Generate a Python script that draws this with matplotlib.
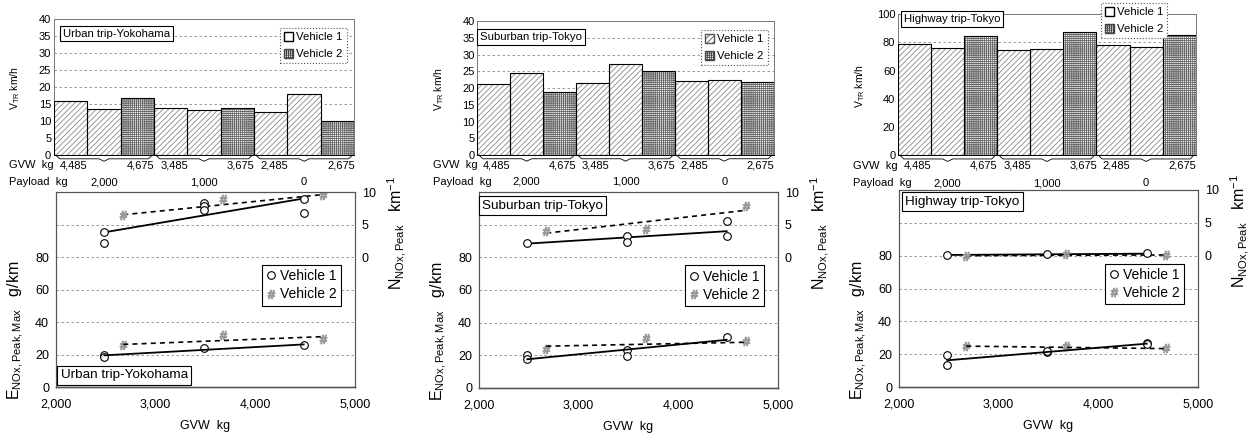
import matplotlib
matplotlib.use("Agg")
import matplotlib.pyplot as plt
import matplotlib.transforms as mtransforms
from matplotlib.patches import Patch
from matplotlib.lines import Line2D
from matplotlib.ticker import FuncFormatter

plt.rcParams["font.family"] = ["Liberation Sans", "DejaVu Sans"]
plt.rcParams["mathtext.fontset"] = "custom"
plt.rcParams["mathtext.rm"] = "Liberation Sans"
plt.rcParams["mathtext.it"] = "Liberation Sans:italic"
plt.rcParams["hatch.linewidth"] = 0.6

# ---- data ----
# bar order: three bars per payload group (vehicle 1, vehicle 1, vehicle 2)
bar_vehicle = [1, 1, 2, 1, 1, 2, 1, 1, 2]
gvw_labels = ["4,485", "4,675", "3,485", "3,675", "2,485", "2,675"]
gvw_label_pos = [0, 2, 3, 5, 6, 8]
payload_labels = ["2,000", "1,000", "0"]
payload_label_pos = [1, 4, 7]

urban_speed = [16.0, 13.5, 16.9, 13.8, 13.3, 13.8, 12.8, 17.9, 9.9]
suburban_speed = [21.2, 24.4, 18.9, 21.4, 27.2, 25.2, 22.1, 22.4, 21.8]
highway_speed = [79.0, 76.0, 84.8, 74.3, 75.5, 87.5, 78.4, 76.8, 84.9]

fit_gvw_v1 = [2485, 4485]
fit_gvw_v2 = [2675, 4675]

# Urban trip - Yokohama
urban_n_v1_x = [2485, 2485, 3485, 3485, 3485, 4485, 4485]
urban_n_v1_y = [3.8, 2.1, 8.3, 7.8, 7.3, 9.0, 6.8]
urban_n_v1_fit = [3.8, 9.0]
urban_n_v2_x = [2675, 3675, 4675]
urban_n_v2_y = [6.4, 9.0, 9.5]
urban_n_v2_fit = [6.5, 9.6]
urban_e_v1_x = [2485, 2485, 3485, 4485]
urban_e_v1_y = [19.9, 18.5, 24.2, 25.6]
urban_e_v1_fit = [19.5, 26.2]
urban_e_v2_x = [2675, 3675, 4675]
urban_e_v2_y = [25.6, 32.0, 29.3]
urban_e_v2_fit = [26.2, 31.0]

# Suburban trip - Tokyo
suburban_n_v1_x = [2485, 3485, 3485, 4485, 4485]
suburban_n_v1_y = [2.2, 3.2, 2.3, 5.5, 3.3]
suburban_n_v1_fit = [2.1, 4.0]
suburban_n_v2_x = [2675, 3675, 4675]
suburban_n_v2_y = [4.0, 4.4, 7.9]
suburban_n_v2_fit = [3.7, 7.2]
suburban_e_v1_x = [2485, 2485, 3485, 3485, 4485]
suburban_e_v1_y = [20.4, 18.0, 23.0, 19.6, 31.0]
suburban_e_v1_fit = [17.6, 29.5]
suburban_e_v2_x = [2675, 3675, 4675]
suburban_e_v2_y = [24.0, 30.5, 28.5]
suburban_e_v2_fit = [25.6, 28.0]

# Highway trip - Tokyo
highway_n_v1_x = [2485, 3485, 4485]
highway_n_v1_y = [0.1, 0.3, 0.4]
highway_n_v1_fit = [0.1, 0.3]
highway_n_v2_x = [2675, 3675, 4675]
highway_n_v2_y = [0.0, 0.2, 0.1]
highway_n_v2_fit = [0.0, 0.1]
highway_e_v1_x = [2485, 2485, 3485, 3485, 4485, 4485]
highway_e_v1_y = [19.5, 13.5, 21.5, 22.0, 27.0, 26.0]
highway_e_v1_fit = [16.4, 26.5]
highway_e_v2_x = [2675, 3675, 4675]
highway_e_v2_y = [25.0, 25.0, 24.0]
highway_e_v2_fit = [25.0, 23.5]

V1_HATCH = "//////"
V2_HATCH = "++++++++"
V2_MARK = dict(linestyle="none", marker=r"$\#$", ms=6, color="#9a9a9a")
V1_MARK = dict(linestyle="none", marker="o", ms=5.5, mfc="white",
               mec="black", mew=0.8)
GRID_KW = dict(color="#8a8a8a", linestyle=(0, (3, 3)), linewidth=0.6)
BOX_KW = dict(boxstyle="square,pad=0.25", fc="white", ec="black", lw=0.8)


def draw_brace(ax, x0, x1, depth=0.045):
    trans = mtransforms.blended_transform_factory(ax.transData, ax.transAxes)
    xm = 0.5 * (x0 + x1)
    xs = [x0, x0 + 0.12, xm - 0.15, xm, xm + 0.15, x1 - 0.12, x1]
    ys = [0, -depth * 0.6, -depth * 0.6, -depth, -depth * 0.6, -depth * 0.6, 0]
    ax.plot(xs, ys, color="black", lw=0.6, transform=trans, clip_on=False)


def draw_bars(ax, speeds, ymax, ystep, title, title_pos, legend_anchor,
              v1_legend_hatched=False):
    x = list(range(len(speeds)))
    for xi, h, veh in zip(x, speeds, bar_vehicle):
        if veh == 1:
            ax.bar(xi, h, width=1.0, color="white", edgecolor="#8a8a8a",
                   hatch=V1_HATCH, linewidth=0, zorder=2)
        else:
            ax.bar(xi, h, width=1.0, color="white", edgecolor="#666666",
                   hatch=V2_HATCH, linewidth=0, zorder=2)
    ax.bar(x, speeds, width=1.0, fill=False, edgecolor="black",
           linewidth=0.8, zorder=3)

    ax.set_xlim(-0.5, len(speeds) - 0.5)
    ax.set_ylim(0, ymax)
    ax.set_yticks(range(0, ymax + 1, ystep))
    ax.set_xticks([])
    ax.tick_params(axis="y", length=0, labelsize=8, pad=2)
    for y in range(ystep, ymax, ystep):
        ax.axhline(y, zorder=1, **GRID_KW)
    for s in ax.spines.values():
        s.set_color("#777777")
        s.set_linewidth(0.7)
    ax.spines["bottom"].set_color("black")

    ax.set_ylabel(r"V$_{\mathrm{TR}}$ km/h", fontsize=7.5)
    ax.yaxis.set_label_coords(-0.105, 0.49)

    ax.text(title_pos[0], title_pos[1], title, transform=ax.transAxes,
            fontsize=8.2, ha="left", va="top", bbox=BOX_KW, zorder=5)

    if v1_legend_hatched:
        h1 = Patch(facecolor="white", edgecolor="#555555", hatch=V1_HATCH)
    else:
        h1 = Patch(facecolor="white", edgecolor="black")
    h2 = Patch(facecolor="white", edgecolor="#444444", hatch=V2_HATCH)
    leg = ax.legend([h1, h2], ["Vehicle 1", "Vehicle 2"], loc="upper right",
                    bbox_to_anchor=legend_anchor, fontsize=8.2,
                    handlelength=0.8, handleheight=0.8, handletextpad=0.3,
                    borderpad=0.35, labelspacing=0.6, fancybox=False,
                    framealpha=1, borderaxespad=0)
    leg.get_frame().set_edgecolor("#555555")
    leg.get_frame().set_linestyle(":")
    leg.get_frame().set_linewidth(0.8)
    leg.set_zorder(6)

    # GVW / payload rows under the bars
    trans = mtransforms.blended_transform_factory(ax.transData, ax.transAxes)
    for g in range(3):
        draw_brace(ax, 3 * g - 0.45, 3 * g + 2.45)
    ax.text(-0.15, -0.075, "GVW  kg", transform=ax.transAxes, fontsize=8,
            ha="left", va="center")
    for lab, pos in zip(gvw_labels, gvw_label_pos):
        ax.text(pos + 0.1, -0.075, lab, transform=trans, fontsize=8,
                ha="center", va="center")
    ax.text(-0.15, -0.2, "Payload  kg", transform=ax.transAxes, fontsize=8,
            ha="left", va="center")
    for lab, pos in zip(payload_labels, payload_label_pos):
        ax.text(pos, -0.2, lab, transform=trans, fontsize=8,
                ha="center", va="center")


def draw_emissions(ax, n_v1, n_v2, e_v1, e_v2, fits, title, title_pos,
                   title_va):
    ax2 = ax.twinx()
    ax.set_xlim(2000, 5000)
    ax.set_ylim(0, 120)
    ax2.set_ylim(-20, 10)
    ax.set_yticks([0, 20, 40, 60, 80])
    ax2.set_yticks([0, 5, 10])
    ax.set_xticks([2000, 3000, 4000, 5000])
    ax.xaxis.set_major_formatter(FuncFormatter(lambda v, p: "{:,.0f}".format(v)))
    ax.tick_params(length=0, labelsize=9, pad=5)
    ax.tick_params(axis="x", pad=8)
    ax2.tick_params(length=0, labelsize=9, pad=5)
    for y in [20, 40, 60, 80, 100]:
        ax.axhline(y, zorder=0, **GRID_KW)
    for a in (ax, ax2):
        for s in a.spines.values():
            s.set_color("#555555")
            s.set_linewidth(0.8)
    ax.spines["bottom"].set_color("black")
    ax.spines["bottom"].set_linewidth(1.0)

    f_n1, f_n2, f_e1, f_e2 = fits
    # peak count (right axis)
    ax2.plot(fit_gvw_v1, f_n1, color="black", lw=1.3)
    ax2.plot(fit_gvw_v2, f_n2, color="black", lw=1.2, linestyle=(0, (3, 2.5)))
    ax2.plot(n_v1[0], n_v1[1], **V1_MARK)
    ax2.plot(n_v2[0], n_v2[1], **V2_MARK)
    # emission (left axis), lines drawn on the right axis scale
    ax2.plot(fit_gvw_v1, [v / 4 - 20 for v in f_e1], color="black", lw=1.3)
    ax2.plot(fit_gvw_v2, [v / 4 - 20 for v in f_e2], color="black", lw=1.2,
             linestyle=(0, (3, 2.5)))
    ax.plot(e_v1[0], e_v1[1], zorder=3, **V1_MARK)
    ax.plot(e_v2[0], e_v2[1], zorder=3, **V2_MARK)

    ax.set_xlabel("GVW  kg", fontsize=9, labelpad=7)
    ax.set_ylabel(r"E$_{\mathrm{NOx,Peak,Max}}$   g/km", fontsize=11.5)
    ax.yaxis.set_label_coords(-0.102, 0.29)
    ax2.set_ylabel(r"N$_{\mathrm{NOx,Peak}}$   km$^{-1}$", fontsize=11.5,
                   rotation=90)
    ax2.yaxis.set_label_coords(1.1, 0.79)

    h1 = Line2D([], [], **V1_MARK)
    h2 = Line2D([], [], **V2_MARK)
    leg = ax2.legend([h1, h2], ["Vehicle 1", "Vehicle 2"], loc="upper left",
                     bbox_to_anchor=(0.69, 0.625), fontsize=10,
                     handlelength=0.6, handletextpad=0.4, borderpad=0.3,
                     labelspacing=0.3, fancybox=False, framealpha=1,
                     borderaxespad=0)
    leg.get_frame().set_edgecolor("black")
    leg.get_frame().set_linewidth(0.8)

    ax2.text(title_pos[0], title_pos[1], title, transform=ax.transAxes,
             fontsize=9.7, ha="left", va=title_va, bbox=BOX_KW, zorder=5)


def main():
    fig = plt.figure(figsize=(12.56, 4.42), dpi=100)

    top_rects = [[0.043, 0.649, 0.239, 0.308],
                 [0.380, 0.649, 0.236, 0.303],
                 [0.715, 0.649, 0.237, 0.319]]
    bot_rects = [[0.0446, 0.1244, 0.238, 0.4412],
                 [0.3814, 0.1222, 0.238, 0.4434],
                 [0.7158, 0.1238, 0.238, 0.4468]]

    ax = fig.add_axes(top_rects[0])
    draw_bars(ax, urban_speed, 40, 5, "Urban trip-Yokohama", (0.03, 0.93),
              (0.975, 0.935))
    ax = fig.add_axes(top_rects[1])
    draw_bars(ax, suburban_speed, 40, 5, "Suburban trip-Tokyo", (0.01, 0.92),
              (0.98, 0.935), v1_legend_hatched=True)
    ax = fig.add_axes(top_rects[2])
    draw_bars(ax, highway_speed, 100, 20, "Highway trip-Tokyo", (0.02, 1.0),
              (0.905, 1.08))

    ax = fig.add_axes(bot_rects[0])
    draw_emissions(ax, (urban_n_v1_x, urban_n_v1_y), (urban_n_v2_x, urban_n_v2_y),
                   (urban_e_v1_x, urban_e_v1_y), (urban_e_v2_x, urban_e_v2_y),
                   (urban_n_v1_fit, urban_n_v2_fit, urban_e_v1_fit, urban_e_v2_fit),
                   "Urban trip-Yokohama", (0.015, 0.03), "bottom")
    ax = fig.add_axes(bot_rects[1])
    draw_emissions(ax, (suburban_n_v1_x, suburban_n_v1_y),
                   (suburban_n_v2_x, suburban_n_v2_y),
                   (suburban_e_v1_x, suburban_e_v1_y),
                   (suburban_e_v2_x, suburban_e_v2_y),
                   (suburban_n_v1_fit, suburban_n_v2_fit, suburban_e_v1_fit,
                    suburban_e_v2_fit),
                   "Suburban trip-Tokyo", (0.01, 0.96), "top")
    ax = fig.add_axes(bot_rects[2])
    draw_emissions(ax, (highway_n_v1_x, highway_n_v1_y),
                   (highway_n_v2_x, highway_n_v2_y),
                   (highway_e_v1_x, highway_e_v1_y),
                   (highway_e_v2_x, highway_e_v2_y),
                   (highway_n_v1_fit, highway_n_v2_fit, highway_e_v1_fit,
                    highway_e_v2_fit),
                   "Highway trip-Tokyo", (0.02, 0.97), "top")

    fig.savefig("out.png", dpi=100)


if __name__ == "__main__":
    main()
